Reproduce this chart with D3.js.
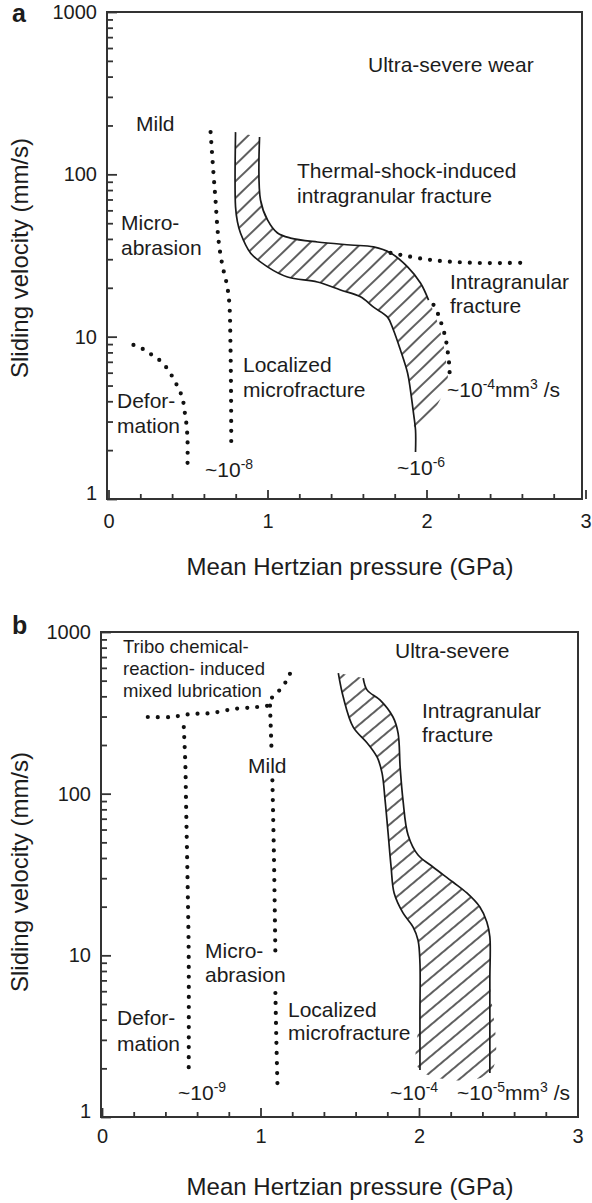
<!DOCTYPE html>
<html>
<head>
<meta charset="utf-8">
<script src="https://cdn.jsdelivr.net/npm/d3@7/dist/d3.min.js"></script>
<style>
  html, body { margin: 0; padding: 0; background: #fff; }
  svg text { font-family: "Liberation Sans", Arial, Helvetica, sans-serif; fill: #1c1c1c; }
</style>
</head>
<body>
<svg id="chart" width="592" height="1203" viewBox="0 0 592 1203"></svg>
<script>
// Axis ticks shared by both maps
const pressureTicks = [0, 1, 2, 3];
const velocityTicks = [1, 10, 100, 1000];

// ---- Map a: boundaries as [mean Hertzian pressure (GPa), sliding velocity (mm/s)] ----
const aDeformationEdge = [[0.157, 8.9], [0.226, 8.3], [0.283, 7.6], [0.333, 7.0], [0.377, 6.2], [0.409, 5.5],
  [0.440, 4.8], [0.465, 4.2], [0.478, 3.5], [0.490, 2.9], [0.497, 2.3], [0.497, 1.62]];
const aMildEdge = [[0.642, 182], [0.660, 102], [0.673, 69.5], [0.686, 45.4], [0.698, 35.2], [0.718, 27],
  [0.745, 20.8], [0.760, 16], [0.767, 9], [0.771, 4], [0.772, 2.06]];
const aIntragranularEdge = [[1.774, 32.8], [2.025, 29.7], [2.296, 28.5], [2.591, 28.5]];
const aUltraEdge = [[2.044, 15.7], [2.075, 13.6], [2.100, 11.5], [2.120, 9.8], [2.130, 8.5], [2.140, 7.2],
  [2.145, 6.2], [2.145, 5.4]];
// thermal-shock band: lower-left solid edge, upper-right solid edge, open hatched edge
const aBandLower = [[0.799, 182], [0.799, 63], [0.811, 50.9], [0.830, 43.5], [0.893, 32.8], [1.0, 26.9],
  [1.126, 23.3], [1.314, 21.7], [1.459, 19.4], [1.585, 17.6], [1.667, 15.2], [1.755, 13.2], [1.792, 11.0],
  [1.836, 8.28], [1.881, 5.97], [1.899, 4.69], [1.918, 3.39], [1.931, 2.66], [1.931, 1.95]];
const aBandUpper = [[0.950, 170], [0.956, 69.5], [1.0, 52.4], [1.063, 43.5], [1.145, 40.5], [1.314, 38.3],
  [1.522, 36.7], [1.667, 35.7], [1.774, 32.8], [1.881, 26.9], [1.962, 21.4], [2.013, 16.8]];
const aBandOpen = [[2.040, 14.6], [2.075, 11.8], [2.107, 8.9], [2.126, 6.7], [2.132, 5.4], [2.038, 3.39]];

// ---- Map b ----
const bLubricationEdge = [[0.289, 298], [0.434, 298], [0.560, 311], [0.686, 315], [0.830, 334], [0.969, 343],
  [1.050, 353], [1.075, 396], [1.126, 443], [1.170, 511], [1.195, 581]];
const bDeformationEdge = [[0.516, 258], [0.526, 150], [0.530, 91], [0.541, 25], [0.547, 10], [0.547, 1.77]];
// null entries break the dotted edge where the labels sit
const bMildEdge = [[1.060, 350], [1.069, 194], null, [1.075, 121], [1.085, 40], [1.094, 10.0], null,
  [1.094, 5.85], [1.100, 3], [1.107, 1.58]];
const bBandLeft = [[1.491, 557], [1.522, 396], [1.585, 258], [1.673, 206], [1.736, 168], [1.767, 134],
  [1.786, 91.3], [1.805, 57.1], [1.824, 35.2], [1.843, 24.3], [1.899, 18.3], [1.962, 15.0], [1.994, 12.4],
  [2.006, 8.96], [2.006, 4.4], [2.006, 1.95]];
const bBandRight = [[1.648, 519], [1.673, 437], [1.755, 379], [1.836, 298], [1.868, 237], [1.881, 146],
  [1.899, 91.3], [1.931, 55.5], [1.994, 41.7], [2.088, 35.2], [2.214, 28.4], [2.302, 24.3], [2.384, 19.9],
  [2.428, 16.1], [2.447, 13.0], [2.447, 7.03], [2.447, 1.87]];

const svg = d3.select("#chart");
const defs = svg.append("defs");

// diagonal hatching used inside the transition bands
function hatch(id, angle, gap) {
  const p = defs.append("pattern").attr("id", id).attr("patternUnits", "userSpaceOnUse")
    .attr("width", gap).attr("height", gap).attr("patternTransform", `rotate(${angle})`);
  p.append("line").attr("x1", gap / 2).attr("y1", -1).attr("x2", gap / 2).attr("y2", gap + 1)
    .attr("stroke", "#1a1a1a").attr("stroke-width", 1.4);
}
hatch("hatchA", 46, 12);
hatch("hatchB", 50, 12);

// text with optional superscript pieces ({sup: "..."})
function label(g, x, y, parts, size) {
  const t = g.append("text").attr("x", x).attr("y", y).attr("font-size", size);
  let raised = false;
  parts.forEach(p => {
    if (typeof p === "string") {
      const s = t.append("tspan").text(p);
      if (raised) { s.attr("dy", 8); raised = false; }
    } else {
      t.append("tspan").attr("dy", -8).attr("font-size", 14).text(p.sup);
      raised = true;
    }
  });
  return t;
}

function drawMap(cfg) {
  const g = svg.append("g");
  const x = d3.scaleLinear().domain([0, 3]).range([cfg.x0, cfg.x3]);
  const y = d3.scaleLog().domain([1, 1000]).range([cfg.bottom, cfg.top]);
  const line = d3.line().defined(d => d !== null)
    .x(d => x(d[0])).y(d => y(d[1]))
    .curve(d3.curveCatmullRom.alpha(0.5));

  // hatched band and its drawn edges
  g.append("path").attr("d", line(cfg.bandFill) + "Z")
    .attr("fill", `url(#${cfg.hatch})`).attr("stroke", "none");
  cfg.bandEdges.forEach(e => g.append("path").attr("d", line(e))
    .attr("fill", "none").attr("stroke", "#1a1a1a").attr("stroke-width", 1.7));

  // dotted regime boundaries
  cfg.dotted.forEach(e => g.append("path").attr("d", line(e))
    .attr("fill", "none").attr("stroke", "#111").attr("stroke-width", 4.2)
    .attr("stroke-linecap", "round").attr("stroke-dasharray", "0 10"));

  // frame
  g.append("rect").attr("x", cfg.left).attr("y", cfg.top)
    .attr("width", cfg.right - cfg.left).attr("height", cfg.bottom - cfg.top)
    .attr("fill", "none").attr("stroke", "#333").attr("stroke-width", 2);

  // log velocity axis with inward ticks
  const yMinor = [];
  [1, 10, 100].forEach(d => d3.range(2, 10).forEach(k => yMinor.push(d * k)));
  const yAx = g.append("g").attr("transform", `translate(${cfg.left},0)`);
  yAx.append("g").call(d3.axisLeft(y).tickValues(yMinor).tickFormat("").tickSizeInner(-6).tickSizeOuter(0));
  const yMaj = yAx.append("g").call(d3.axisLeft(y).tickValues(velocityTicks).tickFormat(d3.format("d"))
    .tickSizeInner(-10).tickSizeOuter(0).tickPadding(10));
  yMaj.selectAll("text").filter(d => d === 1).attr("y", -6);

  // pressure axis with inward ticks
  const xMinor = d3.range(0.2, 3, 0.2).filter(v => Math.abs(v - Math.round(v)) > 0.01);
  const xAx = g.append("g").attr("transform", `translate(0,${cfg.bottom})`);
  xAx.append("g").call(d3.axisBottom(x).tickValues(xMinor).tickFormat("").tickSizeInner(-5).tickSizeOuter(0));
  xAx.append("g").call(d3.axisBottom(x).tickValues(pressureTicks).tickFormat(d3.format("d"))
    .tickSizeInner(-9).tickSizeOuter(0).tickPadding(cfg.xPad));

  g.selectAll(".domain").remove();
  g.selectAll(".tick line").attr("stroke", "#333").attr("stroke-width", 1.8);
  g.selectAll(".tick text").attr("font-size", 20).attr("fill", "#1c1c1c")
    .attr("font-family", "'Liberation Sans', Arial, sans-serif");

  // axis titles and map letter
  g.append("text").attr("transform", `translate(28,${cfg.yTitleY}) rotate(-90)`)
    .attr("text-anchor", "middle").attr("font-size", 24).text("Sliding velocity (mm/s)");
  g.append("text").attr("x", 350).attr("y", cfg.xTitleY).attr("text-anchor", "middle")
    .attr("font-size", 24).text("Mean Hertzian pressure (GPa)");
  g.append("text").attr("x", 12).attr("y", cfg.letterY).attr("font-size", 25)
    .attr("font-weight", "bold").attr("fill", "#111").text(cfg.letter);

  cfg.labels.forEach(l => label(g, l[0], l[1], l[2], l[3] || 21));
}

drawMap({
  letter: "a", letterY: 22,
  left: 107, right: 582, top: 12, bottom: 499, x0: 108.5, x3: 585.5, xPad: 15,
  yTitleY: 258, xTitleY: 575,
  hatch: "hatchA",
  bandFill: aBandLower.slice(0, -1).concat([...aBandUpper, ...aBandOpen].reverse()),
  bandEdges: [aBandLower, aBandUpper],
  dotted: [aDeformationEdge, aMildEdge, aIntragranularEdge, aUltraEdge],
  labels: [
    [368, 72, ["Ultra-severe wear"]],
    [136, 131, ["Mild"]],
    [121, 230, ["Micro-"]], [121, 255, ["abrasion"]],
    [297, 178, ["Thermal-shock-induced"]], [297, 203, ["intragranular fracture"]],
    [450, 289, ["Intragranular"]], [450, 313, ["fracture"]],
    [243, 372, ["Localized"]], [243, 397, ["microfracture"]],
    [117, 408, ["Defor-"]], [117, 433, ["mation"]],
    [205, 477, ["~10", {sup: "-8"}]],
    [397, 475, ["~10", {sup: "-6"}]],
    [447, 397, ["~10", {sup: "-4"}, "mm", {sup: "3"}, " /s"]]
  ]
});

drawMap({
  letter: "b", letterY: 634,
  left: 101, right: 578, top: 632, bottom: 1117, x0: 102, x3: 577.5, xPad: 12,
  yTitleY: 872, xTitleY: 1195,
  hatch: "hatchB",
  bandFill: bBandLeft.concat(bBandRight.slice().reverse()),
  bandEdges: [bBandLeft, bBandRight],
  dotted: [bLubricationEdge, bDeformationEdge, bMildEdge],
  labels: [
    [123, 653, ["Tribo chemical-"], 18.5], [123, 675, ["reaction- induced"], 18.5],
    [123, 697, ["mixed lubrication"], 18.5],
    [395, 658, ["Ultra-severe"]],
    [422, 718, ["Intragranular"]], [422, 742, ["fracture"]],
    [248, 773, ["Mild"]],
    [205, 958, ["Micro-"]], [205, 982, ["abrasion"]],
    [117, 1025, ["Defor-"]], [117, 1051, ["mation"]],
    [288, 1017, ["Localized"]], [288, 1040, ["microfracture"]],
    [178, 1100, ["~10", {sup: "-9"}]],
    [390, 1100, ["~10", {sup: "-4"}]],
    [457, 1100, ["~10", {sup: "-5"}, "mm", {sup: "3"}, " /s"]]
  ]
});
</script>
</body>
</html>
